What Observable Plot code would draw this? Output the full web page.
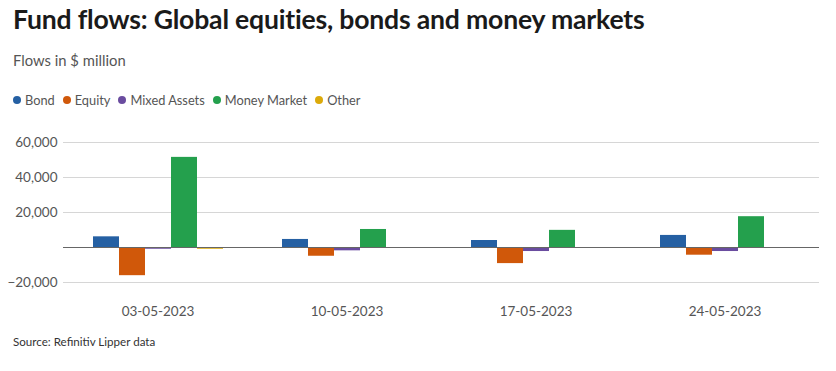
<!DOCTYPE html>
<html>
<head>
<meta charset="utf-8">
<script src="https://cdn.jsdelivr.net/npm/d3@7"></script>
<script src="https://cdn.jsdelivr.net/npm/@observablehq/plot@0.6"></script>
<style>
  body { margin: 0; background: #fff; font-family: "Source Sans Pro", Lato, "Open Sans", sans-serif; }
  #wrap { position: relative; width: 836px; height: 371px; }
  .title { position: absolute; left: 13px; top: 3px; font-size: 26.6px; font-weight: 700; color: #1a1a1a; letter-spacing: -0.2px; white-space: nowrap; }
  .subtitle { position: absolute; left: 13px; top: 51px; font-size: 14.8px; color: #555; }
  .legend { position: absolute; left: 13px; top: 92px; font-size: 12.8px; color: #555; display: flex; gap: 8px; }
  .legend span { display: inline-flex; align-items: center; }
  .legend i { display: inline-block; width: 8px; height: 8px; border-radius: 50%; margin-right: 4px; }
  .source { position: absolute; left: 13px; top: 335px; font-size: 11.6px; color: #333; }
  #chart { position: absolute; left: 0; top: 120px; }
</style>
</head>
<body>
<div id="wrap">
  <div class="title">Fund flows: Global equities, bonds and money markets</div>
  <div class="subtitle">Flows in $ million</div>
  <div class="legend" id="legend"></div>
  <div id="chart"></div>
  <div class="source">Source: Refinitiv Lipper data</div>
</div>
<script>
const dates = ["03-05-2023", "10-05-2023", "17-05-2023", "24-05-2023"];
const categories = ["Bond", "Equity", "Mixed Assets", "Money Market", "Other"];
const colors = ["#2560a3", "#d0580a", "#6a4c9f", "#24a04d", "#dcaa0a"];
const bond = [6100, 4600, 4000, 6900];
const equity = [-16100, -5000, -9200, -4400];
const mixedAssets = [-1000, -1900, -2300, -2300];
const moneyMarket = [51500, 10300, 9800, 17600];
const other = [-1000, -200, -400, -400];
const yTicks = [-20000, 20000, 40000, 60000];
const gridTicks = [-20000, 0, 20000, 40000, 60000];

const series = [bond, equity, mixedAssets, moneyMarket, other];
const data = [];
dates.forEach((d, i) => categories.forEach((c, j) => data.push({date: d, type: c, value: series[j][i]})));

const legend = document.getElementById("legend");
categories.forEach((c, j) => {
  const s = document.createElement("span");
  s.innerHTML = `<i style="background:${colors[j]}"></i>${c}`;
  legend.appendChild(s);
});

const chart = Plot.plot({
  width: 836,
  height: 215,
  marginLeft: 63,
  marginRight: 17,
  marginTop: 22,
  marginBottom: 53,
  style: { fontFamily: "'Source Sans Pro', Lato, 'Open Sans', sans-serif", fontSize: "13px", color: "#555" },
  fx: { domain: dates, padding: 0, label: null },
  x: { domain: categories, paddingInner: 0, paddingOuter: 1.08, axis: null },
  y: { domain: [-20000, 60000], label: null },
  color: { domain: categories, range: colors },
  marks: [
    Plot.ruleY(gridTicks.filter(t => t !== 0), { stroke: "#d6d6d6", strokeWidth: 1 }),
    Plot.axisY({ ticks: yTicks, tickSize: 0, tickPadding: 6, tickFormat: d => d < 0 ? "\u2212" + d3.format(",")(-d) : d3.format(",")(d), fontSize: 13.5, color: "#555", label: null }),
    Plot.axisFx({ anchor: "bottom", tickSize: 0, tickPadding: 24, fontSize: 13.5, color: "#555", label: null }),
    Plot.barY(data, { fx: "date", x: "type", y: "value", fill: "type", inset: 0 }),
    Plot.ruleY([0], { stroke: "#666", strokeWidth: 1.2 })
  ]
});
document.getElementById("chart").appendChild(chart);
</script>
</body>
</html>
